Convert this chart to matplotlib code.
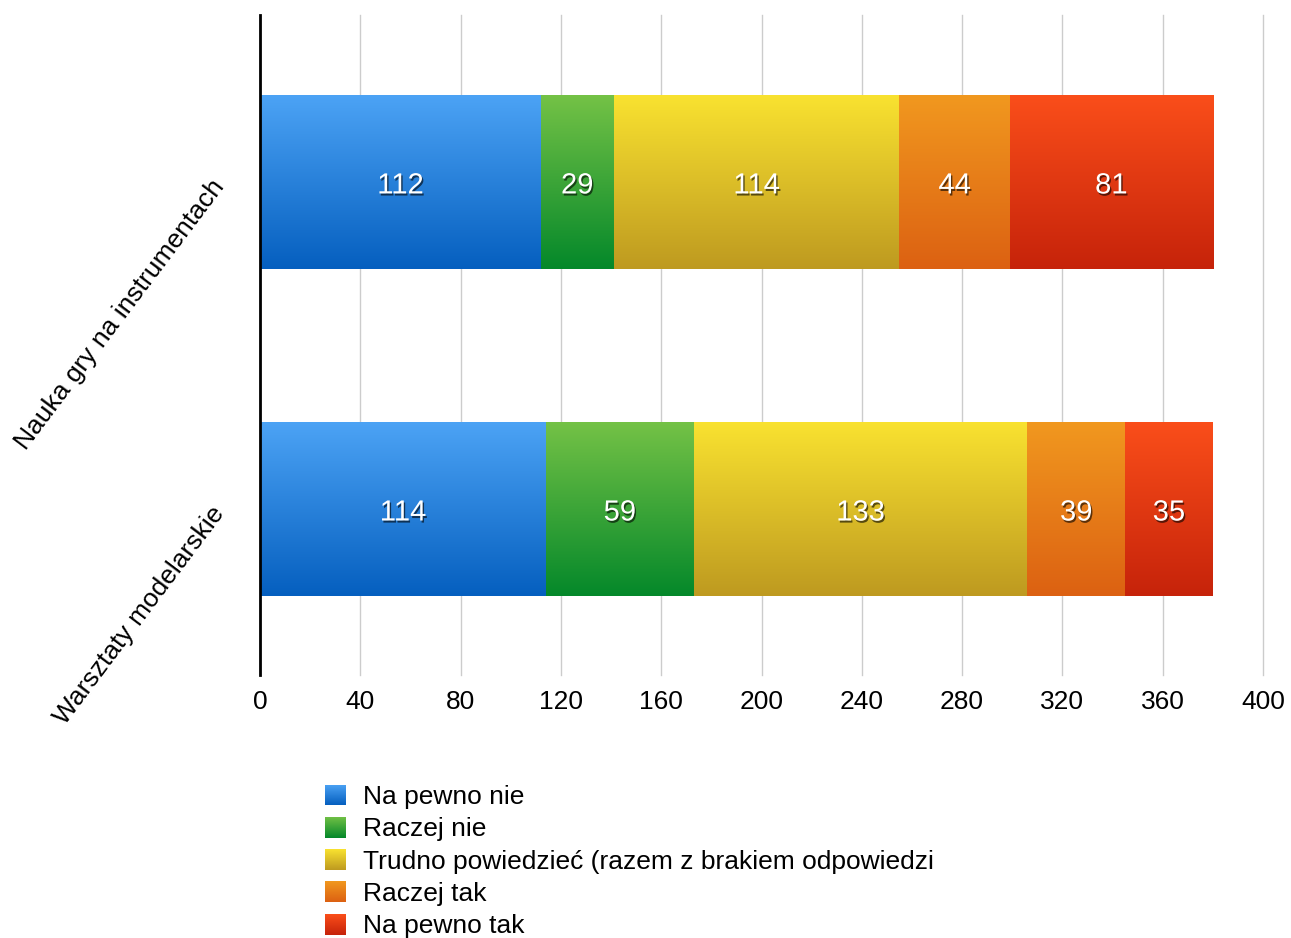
import numpy as np
import matplotlib
matplotlib.use("Agg")
import matplotlib.pyplot as plt
import matplotlib.patheffects as pe
from matplotlib.colors import LinearSegmentedColormap

plt.rcParams['font.family'] = ['Liberation Sans', 'DejaVu Sans']

# data
categories = ["Warsztaty modelarskie", "Nauka gry na instrumentach"]
series = ["Na pewno nie", "Raczej nie",
          "Trudno powiedzieć (razem z brakiem odpowiedzi",
          "Raczej tak", "Na pewno tak"]
values = {
    "Na pewno nie": [114, 112],
    "Raczej nie": [59, 29],
    "Trudno powiedzieć (razem z brakiem odpowiedzi": [133, 114],
    "Raczej tak": [39, 44],
    "Na pewno tak": [35, 81],
}
xticks = list(range(0, 401, 40))

# gradient colours (top, bottom) for each series
grad_colors = [
    ("#4ca3f5", "#055fbf"),
    ("#74c246", "#04882a"),
    ("#f9e230", "#be9a20"),
    ("#f1981f", "#dc6112"),
    ("#fa4e1a", "#c6230a"),
]

W, H = 1291, 938
fig = plt.figure(figsize=(W / 100, H / 100), dpi=100)
ax = fig.add_axes([260 / W, 1 - 675 / H, (1263 - 260) / W, (675 - 15) / H])

ypos = np.arange(len(categories))
bar_h = 0.53
left = np.zeros(len(categories))
for s, (top, bot) in zip(series, grad_colors):
    vals = np.array(values[s])
    bars = ax.barh(ypos, vals, left=left, height=bar_h, color=bot, linewidth=0, zorder=2)
    cmap = LinearSegmentedColormap.from_list(s, [bot, top])
    grad = np.linspace(0, 1, 256).reshape(-1, 1)
    for b, v in zip(bars, vals):
        x0, y0 = b.get_x(), b.get_y()
        ax.imshow(grad, cmap=cmap, origin='lower', aspect='auto', zorder=3,
                  extent=[x0, x0 + b.get_width(), y0, y0 + b.get_height()])
        t = ax.annotate(str(v), (x0 + b.get_width() / 2, y0 + b.get_height() / 2),
                        xytext=(0, -3), textcoords='offset pixels',
                        ha='center', va='center', color='white', fontsize=21, zorder=5)
        t.set_path_effects([pe.withSimplePatchShadow(offset=(1, -1.5), shadow_rgbFace='black', alpha=0.6)])
    left = left + vals

ax.set_xlim(0, 400)
ax.set_ylim(-0.506, 1.512)
ax.set_xticks(xticks)
ax.set_xticklabels([str(x) for x in xticks], fontsize=19)
ax.tick_params(axis='x', length=0, pad=11)
ax.set_yticks(ypos)
ax.set_yticklabels(categories, fontsize=19, rotation=53, ha='right', va='center',
                   rotation_mode='anchor')
ax.tick_params(axis='y', length=0, pad=29)
ax.grid(axis='x', color='#cccccc', linewidth=1, zorder=0)
for gl in ax.get_xgridlines():
    gl.set_clip_on(False)
ax.set_axisbelow(True)
for sp in ['top', 'right', 'bottom']:
    ax.spines[sp].set_visible(False)
ax.spines['left'].set_linewidth(2)
ax.spines['left'].set_color('black')
ax.spines['left'].set_zorder(6)

# legend drawn by hand with gradient swatches
for i, (s, (top, bot)) in enumerate(zip(series, grad_colors)):
    cy = 797 + i * 32.3
    sq = fig.add_axes([325 / W, 1 - (cy - 2 + 10.5) / H, 21 / W, 21 / H])
    cmap = LinearSegmentedColormap.from_list("l" + s, [bot, top])
    sq.imshow(np.linspace(0, 1, 64).reshape(-1, 1), cmap=cmap, origin='lower', aspect='auto')
    sq.axis('off')
    fig.text(363 / W, 1 - cy / H, s, fontsize=19, ha='left', va='center')

fig.savefig("out.png", dpi=100)
